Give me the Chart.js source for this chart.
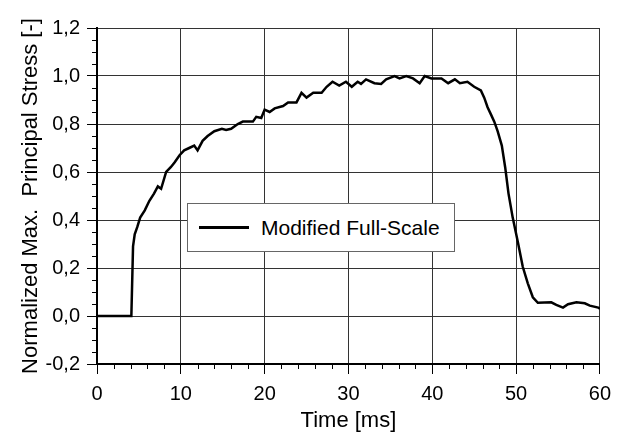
<!DOCTYPE html>
<html>
<head>
<meta charset="utf-8">
<script src="https://cdn.jsdelivr.net/npm/chart.js@4/dist/chart.umd.min.js"></script>
<style>
  html, body { margin: 0; padding: 0; background: #fff; }
  .wrap { position: relative; width: 619px; height: 444px; }
  .legend-box {
    position: absolute; left: 187px; top: 203px; width: 266px; height: 47px;
    border: 1.5px solid #666; background: #fff;
    display: flex; align-items: center;
    font: 21px "Liberation Sans", Arial, sans-serif; color: #000;
  }
  .legend-line { width: 50px; height: 2.5px; background: #000; margin: 0 12px 0 11px; }
</style>
</head>
<body>
<div class="wrap">
  <canvas id="chart"></canvas>
  <div class="legend-box" id="legend"></div>
</div>
<script>
// time [ms] and normalized stress
const timeMs = [0, 4.1, 4.3, 4.5, 4.8, 5.15, 5.7, 6.25, 6.8, 7.26, 7.65, 8.25, 8.8, 9.25, 9.85,
  10.4, 11.0, 11.6, 12.0, 12.6, 13.2, 14.0, 14.9, 15.4, 16.0, 16.8, 17.4, 18.6, 19.0, 19.6,
  20.0, 20.6, 21.2, 22.2, 22.8, 23.8, 24.4, 25.0, 25.8, 26.8, 27.4, 28.1, 28.9, 29.7, 30.4,
  31.1, 31.5, 32.1, 33.1, 33.9, 34.5, 35.5, 36.1, 36.9, 37.7, 38.5, 39.1, 39.9, 41.1, 41.9,
  42.7, 43.3, 44.2, 45.0, 45.8, 46.2, 46.6, 47.0, 47.4, 47.8, 48.3, 48.7, 49.1, 49.6, 50.2,
  50.8, 51.4, 52.0, 52.6, 54.2, 54.8, 55.6, 56.2, 57.2, 58.2, 58.8, 59.8, 60]
const stress = [0, 0, 0.29, 0.34, 0.37, 0.41, 0.44, 0.48, 0.51, 0.54, 0.53, 0.60, 0.62, 0.64, 0.67,
  0.69, 0.70, 0.71, 0.69, 0.73, 0.75, 0.77, 0.78, 0.775, 0.78, 0.80, 0.81, 0.81, 0.83, 0.825,
  0.86, 0.85, 0.865, 0.875, 0.89, 0.89, 0.93, 0.91, 0.93, 0.93, 0.955, 0.976, 0.96, 0.976, 0.955,
  0.976, 0.967, 0.986, 0.97, 0.967, 0.986, 1.0, 0.99, 1.0, 0.99, 0.97, 1.0, 0.99, 0.99, 0.97,
  0.986, 0.97, 0.976, 0.955, 0.94, 0.91, 0.87, 0.84, 0.81, 0.77, 0.71, 0.62, 0.51, 0.41, 0.31,
  0.205, 0.136, 0.078, 0.055, 0.057, 0.046, 0.035, 0.049, 0.057, 0.053, 0.043, 0.035, 0.03]

const seriesLabel = 'Modified Full-Scale'
const xTitle = 'Time [ms]'
const yTitle = 'Normalized Max.  Principal Stress [-]'
const xRange = [0, 60]
const yRange = [-0.2, 1.2]
const xMinorStep = 2
const yMinorStep = 0.05

const fontFamily = '"Liberation Sans", Arial, sans-serif'
Chart.defaults.color = '#000'
Chart.defaults.font.family = fontFamily

// small outward minor ticks, Chart.js has none of its own
const minorTicks = {
  id: 'minorTicks',
  afterDraw(chart) {
    const { ctx, scales: { x, y }, chartArea } = chart
    ctx.save()
    ctx.strokeStyle = '#000'
    ctx.lineWidth = 1
    ctx.beginPath()
    for (let v = xRange[0]; v <= xRange[1] + 1e-9; v += xMinorStep) {
      if (Math.abs(v % 10) < 1e-9) continue
      const px = Math.round(x.getPixelForValue(v)) + 0.5
      ctx.moveTo(px, chartArea.bottom)
      ctx.lineTo(px, chartArea.bottom + 5)
    }
    for (let i = 0; i <= Math.round((yRange[1] - yRange[0]) / yMinorStep); i++) {
      if (i % 4 === 0) continue
      const py = Math.round(y.getPixelForValue(yRange[0] + i * yMinorStep)) + 0.5
      ctx.moveTo(chartArea.left - 5, py)
      ctx.lineTo(chartArea.left, py)
    }
    ctx.stroke()
    ctx.restore()
  },
}

const chart = new Chart(document.getElementById('chart'), {
  type: 'line',
  data: {
    datasets: [
      {
        label: seriesLabel,
        data: timeMs.map((t, i) => ({ x: t, y: stress[i] })),
        borderColor: '#000',
        borderWidth: 2.5,
        pointRadius: 0,
        tension: 0,
        fill: false,
      },
    ],
  },
  options: {
    responsive: true,
    maintainAspectRatio: false,
    animation: false,
    layout: { padding: { left: 0, right: 16, top: 28, bottom: 0 } },
    plugins: {
      legend: { display: false },
      tooltip: { enabled: false },
    },
    scales: {
      x: {
        type: 'linear',
        min: xRange[0],
        max: xRange[1],
        afterFit: (scale) => { scale.height = 80 },
        ticks: { stepSize: 10, padding: 8, font: { size: 20 } },
        grid: { color: '#333', lineWidth: 1, tickLength: 10, tickColor: '#000' },
        border: { color: '#000', width: 2 },
        title: { display: true, text: xTitle, font: { size: 22 }, padding: { bottom: 10 } },
      },
      y: {
        min: yRange[0],
        max: yRange[1],
        afterFit: (scale) => { scale.width = 97 },
        ticks: {
          stepSize: 0.2,
          padding: 7,
          font: { size: 20 },
          callback: (v) => (Math.abs(v) < 1e-9 ? 0 : v).toFixed(1).replace('.', ','),
        },
        grid: { color: '#333', lineWidth: 1, tickLength: 10, tickColor: '#000' },
        border: { color: '#000', width: 2 },
        title: { display: true, text: yTitle, font: { size: 22 }, padding: { top: 18 } },
      },
    },
  },
  plugins: [minorTicks],
})

const legend = document.getElementById('legend')
legend.innerHTML = `<span class="legend-line"></span><span>${chart.data.datasets[0].label}</span>`
</script>
</body>
</html>
